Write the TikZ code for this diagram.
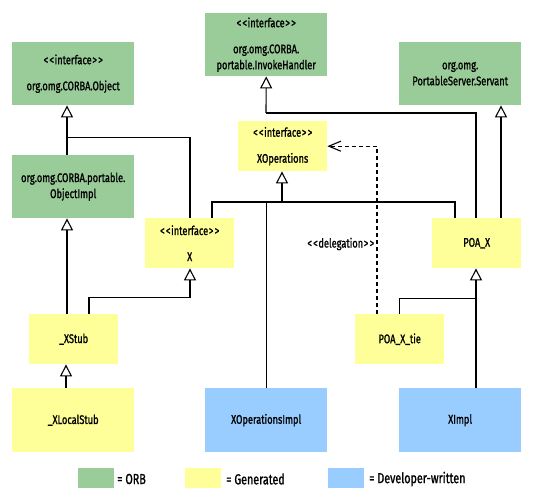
\documentclass[tikz,border=0pt]{standalone}
\usepackage{fontspec}
\newfontfamily\lbl{Fira Sans}[FakeStretch=0.74, FakeBold=1.2]
\usetikzlibrary{arrows.meta,calc}
\definecolor{orb}{RGB}{153,204,153}
\definecolor{gen}{RGB}{255,255,153}
\definecolor{dev}{RGB}{153,204,255}
\tikzset{
  box/.style={draw=none, anchor=north west, inner sep=0pt, align=center,
    font=\lbl\fontsize{12.5}{16}\selectfont},
  lgd/.style={anchor=west, inner sep=0pt, font=\lbl\fontsize{14.5}{16}\selectfont},
  inh/.style={-{Triangle[open,length=12pt,width=12pt]}},
  dep/.style={-{Straight Barb[length=12pt,width=10pt]}, dash pattern=on 4pt off 3pt},
  conn/.style={line width=1.1pt, line join=miter}
}
\newcommand{\lt}{\kern0.6pt<\kern0.6pt}
\newcommand{\gt}{\kern0.6pt>\kern0.6pt}
\newcommand{\ifc}{\lt\lt interface\gt\gt}
\begin{document}
\begin{tikzpicture}[x=1pt,y=-1pt]
\useasboundingbox (0,0) rectangle (535,500);
% boxes
\node[box, fill=orb, minimum width=122pt, minimum height=63pt] (obj) at (12,42) {\ifc\\[10pt]org.omg.CORBA.Object};
\node[box, fill=orb, minimum width=122pt, minimum height=63pt] (inv) at (205,13) {\ifc\\[10pt]org.omg.CORBA.\\portable.InvokeHandler};
\node[box, fill=orb, minimum width=122pt, minimum height=63pt] (serv) at (399,42) {org.omg.\\PortableServer.Servant};
\node[box, fill=gen, minimum width=89pt, minimum height=50pt] (xops) at (238,121) {\ifc\\[10pt]XOperations};
\node[box, fill=orb, minimum width=122pt, minimum height=63pt] (objimpl) at (12,155) {org.omg.CORBA.portable.\\ObjectImpl};
\node[box, fill=gen, minimum width=89pt, minimum height=50pt] (xif) at (145,218) {\ifc\\[10pt]X};
\node[box, fill=gen, minimum width=89pt, minimum height=50pt] (poax) at (432,218) {POA\_X};
\node[box, fill=gen, minimum width=89pt, minimum height=50pt] (xstub) at (29,314) {\_XStub};
\node[box, fill=gen, minimum width=89pt, minimum height=50pt] (tie) at (355,314) {POA\_X\_tie};
\node[box, fill=gen, minimum width=122pt, minimum height=64pt] (local) at (12,388) {\_XLocalStub};
\node[box, fill=dev, minimum width=122pt, minimum height=64pt] (opsimpl) at (205,388) {XOperationsImpl};
\node[box, fill=dev, minimum width=122pt, minimum height=64pt] (ximpl) at (399,388) {XImpl};
% legend
\node[box, fill=orb, minimum width=36pt, minimum height=20pt] (l1) at (78,468) {};
\node[lgd] (t1) at (117,479) {= ORB};
\node[box, fill=gen, minimum width=36pt, minimum height=20pt] (l2) at (185,468) {};
\node[lgd] (t2) at (226,479) {= Generated};
\node[box, fill=dev, minimum width=36pt, minimum height=20pt] (l3) at (328,468) {};
\node[lgd] (t3) at (369,479) {= Developer-written};
% junctions
\coordinate (j1) at (282,202);
\coordinate (j2) at (266,113);
% connectors
\draw[conn,inh] ($(objimpl.north west)+(55,0)$) -- ($(obj.south west)+(55,0)$);
\draw[conn] ($(xif.north west)+(45,0)$) |- ($(obj.south west)+(55,32)$);
\draw[conn] ($(xif.north west)+(67,0)$) |- (j1) -| ($(poax.north west)+(23,0)$);
\draw[conn,inh] (j1) -- ($(xops.south west)+(44,0)$);
\draw[conn] (opsimpl.north) -- (opsimpl.north |- j1);
\draw[conn,inh] (j2) -- (inv.south);
\draw[conn] (j2) -| ($(poax.north west)+(44,0)$);
\draw[conn,inh] ($(poax.north west)+(69,0)$) -- ($(serv.south west)+(102,0)$);
\draw[conn,inh] ($(ximpl.north west)+(77,0)$) -- ($(poax.south west)+(44,0)$);
\draw[conn] (tie.north) |- ($(poax.south west)+(44,30)$);
\draw[conn,dep] ($(tie.north west)+(22,0)$) |- (xops.east);
\node[anchor=east, inner sep=0pt, font=\lbl\fontsize{12.5}{16}\selectfont] (dlg) at (375,244) {\lt\lt delegation\gt\gt};
\draw[conn,inh] ($(xstub.north west)+(38,0)$) -- ($(objimpl.south west)+(55,0)$);
\draw[conn,inh] ($(xstub.north west)+(60,0)$) |- ($(xif.south west)+(45,29)$) -- ($(xif.south west)+(45,0)$);
\draw[conn,inh] ($(local.north west)+(54,0)$) -- ($(xstub.south west)+(37,0)$);
\end{tikzpicture}
\end{document}
